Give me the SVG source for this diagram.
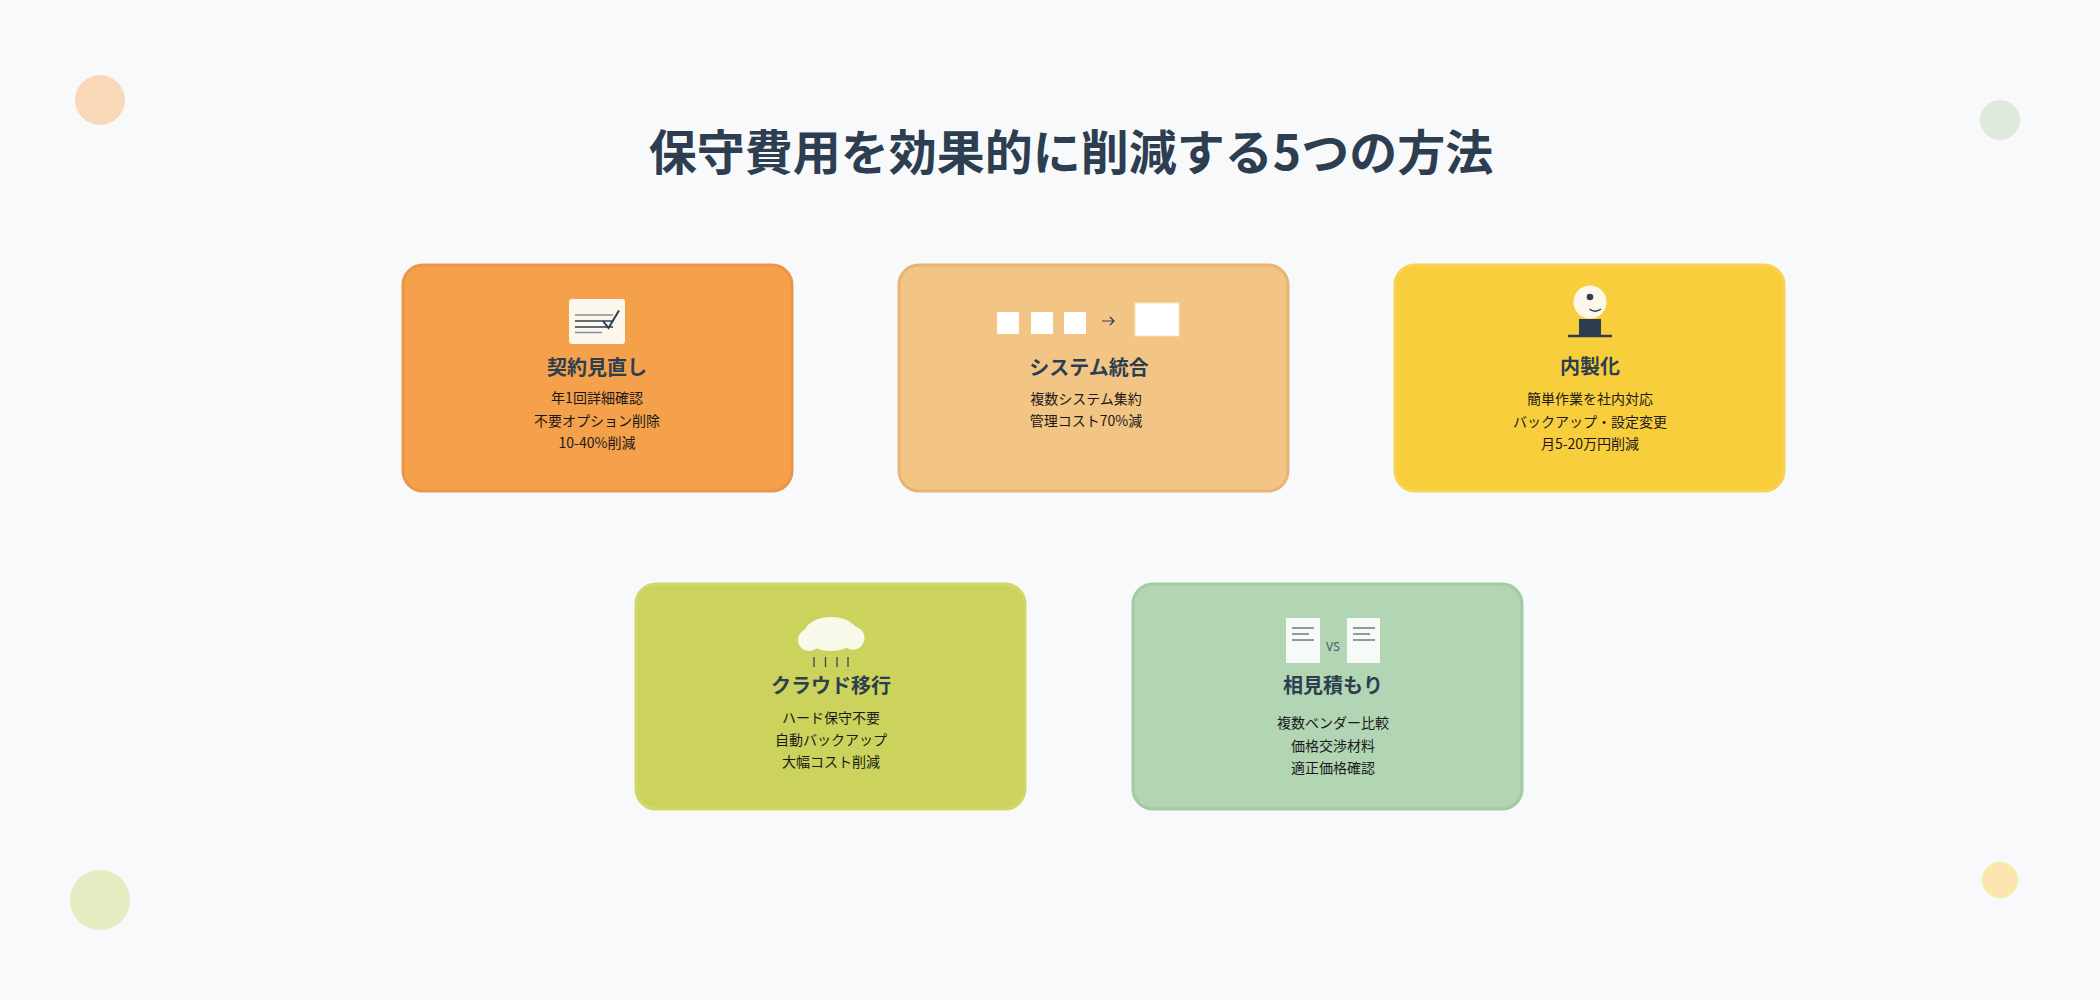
<svg xmlns="http://www.w3.org/2000/svg" width="2100" height="1000" viewBox="0 0 2100 1000">
<style>
.bg{fill:#f8f9fa}
.card{stroke-width:3}
.title{font-family:"Noto Sans CJK JP","Noto Sans",sans-serif;font-weight:700;font-size:48px;fill:#2c3e50;text-anchor:middle}
.ct{font-family:"Noto Sans CJK JP","Noto Sans",sans-serif;font-weight:700;font-size:20px;fill:#2c3e50;text-anchor:middle}
.cb{font-family:"Noto Sans CJK JP","Noto Sans",sans-serif;font-size:14px;fill:#1a1a1a;text-anchor:middle}
.dk{stroke:#2c3e50;fill:none}
</style>
<rect class="bg" x="0" y="0" width="2100" height="1000"/>
<g id="decor">
<circle cx="100" cy="100" r="25" fill="#f9d8b8"/>
<circle cx="2000" cy="120" r="20" fill="#dde9dc"/>
<circle cx="100" cy="900" r="30" fill="#e6ebc2"/>
<circle cx="2000" cy="880" r="18" fill="#fbe7ae"/>
</g>
<text class="title" x="1071" y="170">保守費用を効果的に削減する5つの方法</text>
<g id="connectors"></g>
<g id="card-contract">
<rect class="card" x="403" y="265" width="389" height="226" rx="20" fill="#f5a04a" stroke="#eb9548"/>
<rect x="569" y="299" width="56" height="45" rx="3" fill="#fdf6ec"/>
<line x1="575" y1="315" x2="613" y2="315" stroke="#7f8c9d" stroke-width="1.5"/>
<line x1="575" y1="321" x2="613" y2="321" stroke="#2c3e50" stroke-width="1.5"/>
<line x1="575" y1="327" x2="613" y2="327" stroke="#2c3e50" stroke-width="1.5"/>
<line x1="575" y1="332.5" x2="602" y2="332.5" stroke="#7f8c9d" stroke-width="1.5"/>
<polyline class="dk" points="603,321 608.5,328 619,310.5" stroke-width="2"/>
<text class="ct" x="597" y="375">契約見直し</text>
<text class="cb" x="597" y="403">年1回詳細確認</text>
<text class="cb" x="597" y="426">不要オプション削除</text>
<text class="cb" x="597" y="448">10-40%削減</text>
</g>
<g id="card-integration">
<rect class="card" x="899" y="265" width="389" height="226" rx="20" fill="#f2c584" stroke="#e8b475"/>
<rect x="997" y="312" width="22" height="22" fill="#ffffff"/>
<rect x="1031" y="312" width="22" height="22" fill="#ffffff"/>
<rect x="1064" y="312" width="22" height="22" fill="#ffffff"/>
<path class="dk" d="M1102,321 H1114 M1110,317 L1114,321 L1110,325" stroke-width="1.2"/>
<rect x="1135" y="303" width="44" height="33" fill="#ffffff" stroke="#f7e3c4" stroke-width="1"/>
<text class="ct" x="1089" y="375">システム統合</text>
<text class="cb" x="1086" y="404">複数システム集約</text>
<text class="cb" x="1086" y="426">管理コスト70%減</text>
</g>
<g id="card-inhouse">
<rect class="card" x="1395" y="265" width="389" height="226" rx="20" fill="#f9ce3d" stroke="#f8d350"/>
<circle cx="1590" cy="302" r="16.5" fill="#fdf8ec"/>
<circle cx="1590" cy="297" r="3.3" fill="#2c3e50"/>
<path class="dk" d="M1589.5,309 Q1595,313.5 1601,309" stroke-width="1.5"/>
<rect x="1579" y="319" width="22" height="17" fill="#2c3e50"/>
<line x1="1568" y1="336" x2="1612" y2="336" stroke="#2c3e50" stroke-width="2.5"/>
<text class="ct" x="1590" y="374">内製化</text>
<text class="cb" x="1590" y="404">簡単作業を社内対応</text>
<text class="cb" x="1590" y="427">バックアップ・設定変更</text>
<text class="cb" x="1590" y="449">月5-20万円削減</text>
</g>
<g id="card-cloud">
<rect class="card" x="636" y="584" width="389" height="225" rx="20" fill="#cbd35c" stroke="#d2d76c"/>
<ellipse cx="831" cy="634" rx="27" ry="17" fill="#f8f9e8"/>
<circle cx="809" cy="640" r="11" fill="#f8f9e8"/>
<circle cx="853" cy="638" r="11.5" fill="#f8f9e8"/>
<g stroke="#2c3e50" stroke-width="1.2">
<line x1="814" y1="657" x2="814" y2="667"/>
<line x1="825.5" y1="657" x2="825.5" y2="667"/>
<line x1="837" y1="657" x2="837" y2="667"/>
<line x1="848" y1="657" x2="848" y2="667"/>
</g>
<text class="ct" x="831" y="693">クラウド移行</text>
<text class="cb" x="831" y="723">ハード保守不要</text>
<text class="cb" x="831" y="745">自動バックアップ</text>
<text class="cb" x="831" y="767">大幅コスト削減</text>
</g>
<g id="card-quote">
<rect class="card" x="1133" y="584" width="389" height="225" rx="20" fill="#b2d5b4" stroke="#a2caa4"/>
<rect x="1286" y="618" width="34" height="45" fill="#f7faf6"/>
<rect x="1347" y="618" width="33" height="45" fill="#f7faf6"/>
<g stroke="#4a5a6a" stroke-width="1.2">
<line x1="1292" y1="628" x2="1314" y2="628"/>
<line x1="1292" y1="634" x2="1309" y2="634"/>
<line x1="1292" y1="640" x2="1314" y2="640"/>
<line x1="1353" y1="628" x2="1375" y2="628"/>
<line x1="1353" y1="634" x2="1370" y2="634"/>
<line x1="1353" y1="640" x2="1375" y2="640"/>
</g>
<text x="1333" y="651" font-family="Noto Sans, sans-serif" font-size="12" fill="#4a5a6a" text-anchor="middle">VS</text>
<text class="ct" x="1333" y="693">相見積もり</text>
<text class="cb" x="1333" y="728">複数ベンダー比較</text>
<text class="cb" x="1333" y="751">価格交渉材料</text>
<text class="cb" x="1333" y="773">適正価格確認</text>
</g>
</svg>
